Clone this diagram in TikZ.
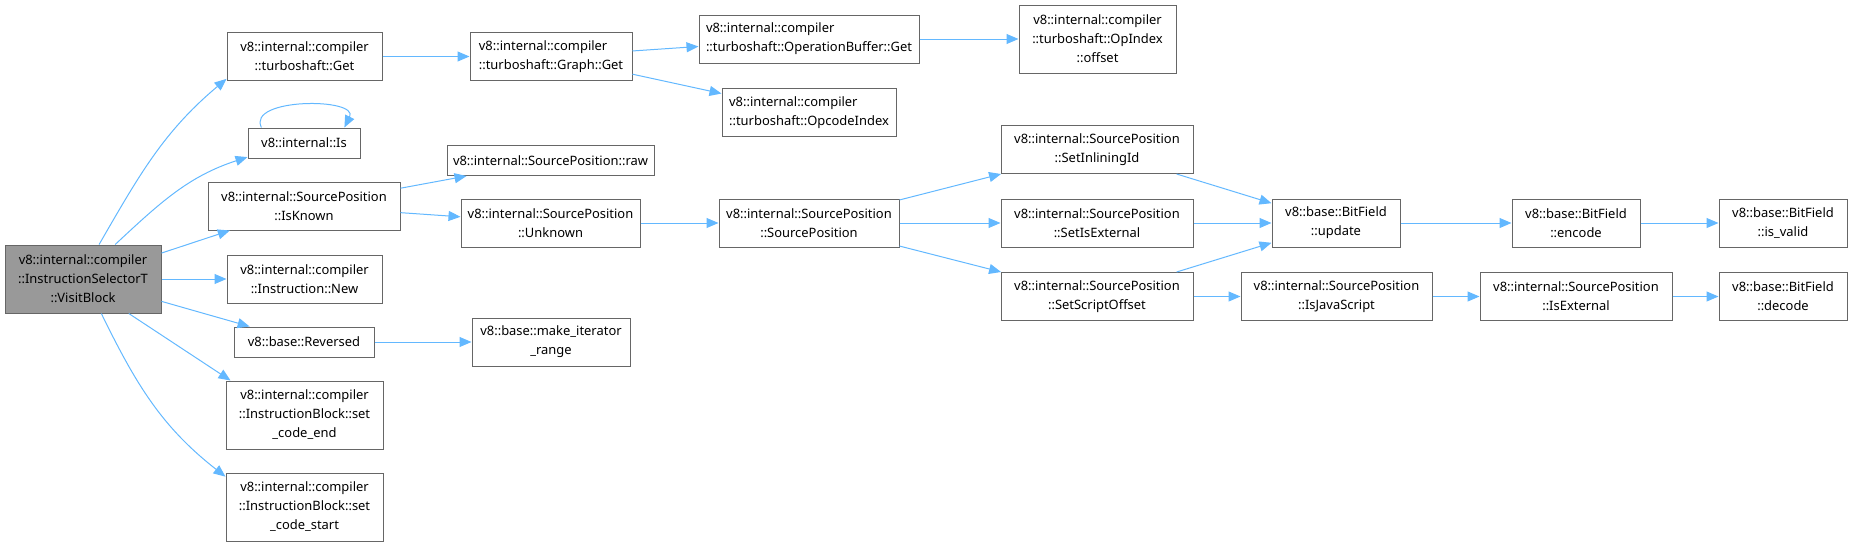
\documentclass[tikz,border=0pt]{standalone}
\usepackage{fontspec}
\setmainfont{Noto Sans}
\usepackage{xcolor}
\usepackage{tikz}
\usetikzlibrary{arrows.meta}

\definecolor{edgeblue}{HTML}{63B8FF}
\definecolor{boxgray}{HTML}{666666}
\definecolor{rootgray}{HTML}{999999}

\begin{document}
\begin{tikzpicture}[
    x=0.75pt, y=-0.75pt,
    fn/.style={rectangle, draw=boxgray, fill=white, line width=0.75pt, align=center, inner xsep=2pt, inner ysep=2pt, minimum height=36pt, font=\fontsize{9.7}{14.25}\selectfont},
    fn1/.style={fn, minimum height=22.5pt},
    fn3/.style={fn, minimum height=51pt},
    bw/.style={minimum width=#1*0.75pt},
    arrow/.style={-{Triangle[length=9pt, width=7.5pt]}, draw=edgeblue, line width=0.75pt}
]
\useasboundingbox (0,0) rectangle (1852,546);

% column 0
\node[fn3, bw=156, fill=rootgray] (root) at (83,279) {v8::internal::compiler\\::InstructionSelectorT\\::VisitBlock};

% column 1
\node[fn, bw=155] (tsget) at (304.5,56.5) {v8::internal::compiler\\::turboshaft::Get};
\node[fn1, bw=112] (is) at (304,143) {v8::internal::Is};
\node[fn, bw=192] (isknown) at (304,206) {v8::internal::SourcePosition\\::IsKnown};
\node[fn, bw=155] (newinstr) at (304.5,279) {v8::internal::compiler\\::Instruction::New};
\node[fn1, bw=140] (reversed) at (304,342) {v8::base::Reversed};
\node[fn3, bw=157] (codeend) at (304.5,415) {v8::internal::compiler\\::InstructionBlock::set\\\_code\_end};
\node[fn3, bw=157] (codestart) at (304.5,507) {v8::internal::compiler\\::InstructionBlock::set\\\_code\_start};

% column 2
\node[fn, bw=162, align=left] (graphget) at (551,56.5) {v8::internal::compiler\\::turboshaft::Graph::Get};
\node[fn1, bw=207] (spraw) at (550.5,160.5) {v8::internal::SourcePosition::raw};
\node[fn, bw=179] (unknown) at (550.5,223) {v8::internal::SourcePosition\\::Unknown};
\node[fn, bw=158] (iterrange) at (551,342) {v8::base::make\_iterator\\\_range};

% column 3
\node[fn, bw=220, align=left] (opbuf) at (809,39) {v8::internal::compiler\\::turboshaft::OperationBuffer::Get};
\node[fn, bw=174, align=left] (opcode) at (809,112.5) {v8::internal::compiler\\::turboshaft::OpcodeIndex};
\node[fn, bw=180] (srcpos) at (809,223) {v8::internal::SourcePosition\\::SourcePosition};

% column 4
\node[fn3, bw=157] (offset) at (1097.5,39) {v8::internal::compiler\\::turboshaft::OpIndex\\::offset};
\node[fn, bw=192] (setinl) at (1097,149.5) {v8::internal::SourcePosition\\::SetInliningId};
\node[fn, bw=192] (setext) at (1097,223) {v8::internal::SourcePosition\\::SetIsExternal};
\node[fn, bw=192] (setscript) at (1097,296.5) {v8::internal::SourcePosition\\::SetScriptOffset};

% columns 5-7
\node[fn, bw=128] (update) at (1336,223) {v8::base::BitField\\::update};
\node[fn, bw=191] (isjs) at (1336.5,296.5) {v8::internal::SourcePosition\\::IsJavaScript};
\node[fn, bw=128] (encode) at (1576,223) {v8::base::BitField\\::encode};
\node[fn, bw=192] (isext) at (1576,296.5) {v8::internal::SourcePosition\\::IsExternal};
\node[fn, bw=128] (isvalid) at (1783,223) {v8::base::BitField\\::is\_valid};
\node[fn, bw=128] (decode) at (1783,296.5) {v8::base::BitField\\::decode};

% curved calls out of the root
\draw[arrow] (root.65) to[out=60, in=220] (tsget.196);
\draw[arrow] (root.47) to[out=43, in=198] (is.194);
\draw[arrow] (root.-37) -- (codeend.155);
\draw[arrow] (root.-62) to[out=-64, in=142] (codestart.159);
\draw[arrow] (is.160) .. controls +(-15,-30) and +(15,-30) .. (is.21);

% straight calls
\foreach \a/\b in {root/isknown, root/newinstr, root/reversed, tsget/graphget,
    graphget/opbuf, graphget/opcode, opbuf/offset, isknown/spraw, isknown/unknown,
    unknown/srcpos, reversed/iterrange, srcpos/setinl, srcpos/setext, srcpos/setscript,
    setinl/update, setext/update, setscript/update, setscript/isjs,
    update/encode, encode/isvalid, isjs/isext, isext/decode} {
    \draw[arrow] (\a) -- (\b);
}

\end{tikzpicture}
\end{document}
